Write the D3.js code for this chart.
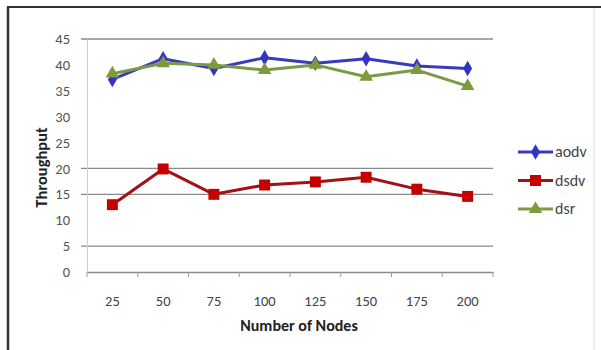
<!DOCTYPE html>
<html>
<head>
<meta charset="utf-8">
<script src="https://cdn.jsdelivr.net/npm/d3@7"></script>
<style>
  html, body { margin: 0; padding: 0; background: #fff; }
  svg { display: block; }
  text { font-family: Carlito, Lato, "Open Sans", sans-serif; }
</style>
</head>
<body>
<svg id="chart" width="601" height="350"></svg>
<script>
// Throughput by network size for three routing protocols
const nodes = ["25", "50", "75", "100", "125", "150", "175", "200"];
const aodv = [37.2, 41.2, 39.3, 41.4, 40.3, 41.2, 39.8, 39.3];
const dsdv = [13.0, 19.9, 15.0, 16.8, 17.4, 18.3, 16.0, 14.6];
const dsr  = [38.3, 40.3, 40.0, 39.0, 40.0, 37.7, 39.0, 35.9];
const yTicks = [0, 5, 10, 15, 20, 25, 30, 35, 40, 45];
const gridValues = [5, 15, 20, 45];

const series = [
  { name: "aodv", values: aodv, line: "#3a3abd", fill: "#3333c4", shape: d3.symbolDiamond, size: 70 },
  { name: "dsdv", values: dsdv, line: "#a31018", fill: "#c40000", shape: d3.symbolSquare, size: 120 },
  { name: "dsr",  values: dsr,  line: "#7b9a44", fill: "#7d9a3c", shape: d3.symbolTriangle, size: 80 }
];

const svg = d3.select("#chart");

// outer frame
svg.append("line").attr("x1", 7).attr("x2", 601).attr("y1", 7).attr("y2", 7)
  .attr("stroke", "#333").attr("stroke-width", 2);
svg.append("line").attr("x1", 8).attr("x2", 8).attr("y1", 7).attr("y2", 350)
  .attr("stroke", "#333").attr("stroke-width", 2.5);
svg.append("line").attr("x1", 594).attr("x2", 594).attr("y1", 9).attr("y2", 350)
  .attr("stroke", "#ddd").attr("stroke-width", 1);

const plot = { left: 87, right: 493, top: 39, bottom: 272 };

const x = d3.scaleBand().domain(nodes).range([plot.left, plot.right]);
const y = d3.scaleLinear().domain([0, 45]).range([plot.bottom, plot.top]);

// horizontal gridlines
svg.append("g").selectAll("line").data(gridValues).join("line")
  .attr("x1", plot.left - 6).attr("x2", plot.right)
  .attr("y1", d => y(d)).attr("y2", d => y(d))
  .attr("stroke", "#8a8a8a").attr("stroke-width", 1.3);

// y axis
const yAxis = svg.append("g").attr("transform", `translate(${plot.left},0)`)
  .call(d3.axisLeft(y).tickValues(yTicks).tickSize(0).tickPadding(17));
yAxis.select(".domain").attr("stroke", "#d0d0d0");
yAxis.selectAll("text").attr("fill", "#555").style("font-size", "14.5px");

// x axis
const xAxis = svg.append("g").attr("transform", `translate(0,${plot.bottom})`)
  .call(d3.axisBottom(x).tickSize(0).tickPadding(24));
xAxis.select(".domain").attr("stroke", "#8a8a8a").attr("stroke-width", 1.3);
xAxis.selectAll("text").attr("fill", "#444").style("font-size", "14.5px");
// category boundary ticks
xAxis.append("g").selectAll("line")
  .data(nodes.map(n => x(n)).concat([plot.right]))
  .join("line")
  .attr("x1", d => d).attr("x2", d => d).attr("y1", 0).attr("y2", 5)
  .attr("stroke", "#9a9a9a");

// axis titles
svg.append("text")
  .attr("transform", `translate(47,${(plot.top + plot.bottom) / 2 + 12}) rotate(-90)`)
  .attr("text-anchor", "middle").attr("fill", "#222")
  .style("font-size", "16.5px").style("font-weight", "bold")
  .text("Throughput");
svg.append("text")
  .attr("x", 299).attr("y", 331).attr("text-anchor", "middle").attr("fill", "#222")
  .style("font-size", "16px").style("font-weight", "bold")
  .text("Number of Nodes");

// series lines and markers
const cx = n => x(n) + x.bandwidth() / 2;
const line = d3.line().x((d, i) => cx(nodes[i])).y(d => y(d));

series.forEach(s => {
  svg.append("path").datum(s.values)
    .attr("d", line).attr("fill", "none")
    .attr("stroke", s.line).attr("stroke-width", 3).attr("stroke-linejoin", "round");
  svg.append("g").selectAll("path").data(s.values).join("path")
    .attr("d", d3.symbol().type(s.shape).size(s.size))
    .attr("transform", (d, i) => `translate(${cx(nodes[i])},${y(d)})`)
    .attr("fill", s.fill);
});

// legend
const legend = svg.append("g");
series.forEach((s, i) => {
  const ly = 152 + i * 28.5;
  legend.append("line").attr("x1", 518).attr("x2", 553).attr("y1", ly).attr("y2", ly)
    .attr("stroke", s.line).attr("stroke-width", 3);
  legend.append("path")
    .attr("d", d3.symbol().type(s.shape).size(s.size))
    .attr("transform", `translate(535.5,${ly})`).attr("fill", s.fill);
  legend.append("text").attr("x", 555).attr("y", ly + 5)
    .attr("fill", "#444").style("font-size", "16px").text(s.name);
});
</script>
</body>
</html>
